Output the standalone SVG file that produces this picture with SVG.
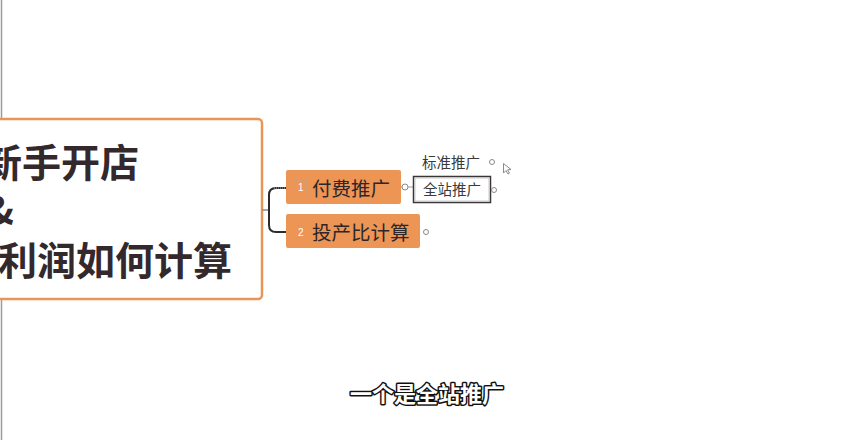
<svg xmlns="http://www.w3.org/2000/svg" width="854" height="440" viewBox="0 0 854 440">
  <style>
    .cjk { font-family: "Noto Sans CJK SC", "Noto Sans", sans-serif; }
    .title { font-size: 39px; font-weight: 700; fill: #33292c; }
    .topic { font-size: 19.5px; fill: #2e2628; }
    .num { font-size: 10px; fill: #ffffff; font-family: "Liberation Sans", sans-serif; }
    .sub { font-size: 14.5px; fill: #3a3a3a; }
    .orange { fill: #ec9555; }
    .toggle { fill: #ffffff; stroke: #8a8a8a; stroke-width: 1; }
    .caption { font-size: 22px; font-weight: 700; fill: #ffffff; stroke: #111111; stroke-width: 3; paint-order: stroke; stroke-linejoin: round; }
  </style>

  <rect x="0" y="0" width="854" height="440" fill="#ffffff"/>
  <!-- window edge -->
  <line x1="1.5" y1="0" x2="1.5" y2="440" stroke="#a09a9c" stroke-width="1.5"/>

  <!-- central topic -->
  <g id="central">
    <rect x="-20" y="119" width="282" height="180" rx="4" fill="#ffffff" stroke="#ea9556" stroke-width="2.5"/>
    <text class="cjk title" x="-17" y="177">新手开店</text>
    <text class="cjk title" x="-15" y="225">&amp;</text>
    <text class="cjk title" x="-2" y="275">利润如何计算</text>
  </g>

  <!-- connectors -->
  <g id="connectors" fill="none">
    <line x1="262" y1="210" x2="269" y2="210" stroke="#8a8a8a" stroke-width="1.5"/>
    <path d="M286 188 H276 Q269 188 269 195 V225 Q269 232 276 232 H286" stroke="#2f2a2b" stroke-width="2"/>
    <line x1="401" y1="187" x2="413" y2="187" stroke="#9a9a9a" stroke-width="1"/>
    <line x1="274" y1="188" x2="286" y2="188" stroke="#b0b0b0" stroke-width="1" stroke-dasharray="1 1"/>
  </g>

  <!-- branch 1 -->
  <g id="node-paid">
    <rect class="orange" x="286" y="170" width="115" height="34" rx="2"/>
    <rect x="294" y="180" width="12" height="14" fill="none" stroke="#b7aaa0" stroke-width="0.8" stroke-dasharray="1 1"/>
    <text class="num" x="298" y="191">1</text>
    <text class="cjk topic" x="312" y="196">付费推广</text>
    <circle class="toggle" cx="405" cy="187" r="3"/>
  </g>

  <!-- branch 2 -->
  <g id="node-roi">
    <rect class="orange" x="286" y="214" width="134" height="34" rx="2"/>
    <text class="num" x="298" y="236">2</text>
    <text class="cjk topic" x="312" y="240">投产比计算</text>
    <circle class="toggle" cx="426" cy="232" r="2.5"/>
  </g>

  <!-- sub topics -->
  <g id="node-standard">
    <text class="cjk sub" x="422" y="168">标准推广</text>
    <circle class="toggle" cx="492" cy="162" r="2.5"/>
  </g>
  <g id="node-site">
    <rect x="413.5" y="176.5" width="77" height="26" fill="#ffffff" stroke="#3a3536" stroke-width="1.5"/>
    <rect x="415" y="178" width="74" height="23" fill="none" stroke="#bdbdbd" stroke-width="0.8"/>
    <text class="cjk sub" x="423" y="195">全站推广</text>
    <circle class="toggle" cx="494" cy="190" r="2.5"/>
  </g>

  <!-- mouse pointer -->
  <path d="M503.5 163.5 L503.5 173 L506 170.5 L508 174 L509.5 173.2 L507.6 169.8 L511 169.5 Z" fill="#ffffff" stroke="#8a8a8a" stroke-width="1"/>

  <!-- caption -->
  <text class="cjk caption" x="427" y="402" text-anchor="middle">一个是全站推广</text>
</svg>
